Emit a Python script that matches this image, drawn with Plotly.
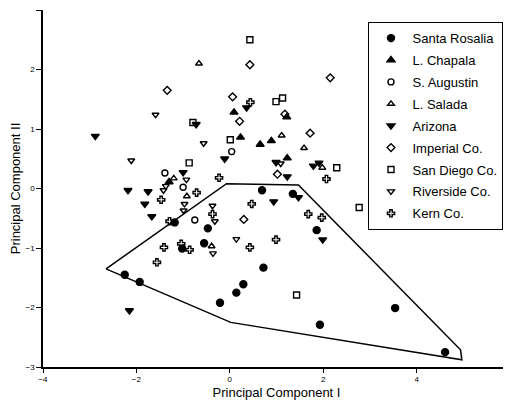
import plotly.graph_objects as go

# ---- data (Principal Component I, II) ----
santa_rosalia_x = [-2.25, -1.93, -0.21, 0.14, 0.29, 0.72, 1.93, 3.54, 4.61, 0.69, 1.35, 1.86, -0.47, -0.55, -1.02, -1.18]
santa_rosalia_y = [-1.45, -1.57, -1.92, -1.75, -1.61, -1.33, -2.29, -2.01, -2.75, -0.03, -0.09, -0.70, -0.67, -0.92, -1.01, -0.57]

chapala_x = [0.09, 0.23, 0.65, 0.89, 1.22, 1.23, -1.30]
chapala_y = [1.28, 0.86, 0.74, 0.80, 1.20, 0.51, 0.11]

augustin_x = [0.04, -1.39, -1.00, -0.75]
augustin_y = [0.62, 0.26, 0.02, -0.53]

salada_x = [-0.66, 1.11, 1.59, 1.98, -1.20, -0.92, -0.39]
salada_y = [2.10, 0.89, 0.68, 0.35, 0.17, -0.13, -0.97]

arizona_x = [-2.88, -0.72, 0.36, -0.11, 0.99, 1.79, 1.91, 1.23, 1.47, 0.94, 1.99, -2.15, -1.00, -2.18, -1.75, -1.82, -1.67]
arizona_y = [0.88, 1.08, 1.36, 0.50, 0.44, 0.38, 0.43, 0.20, -0.15, -0.22, -0.86, -2.05, 0.27, -0.03, -0.05, -0.26, -0.47]

imperial_x = [-1.34, 0.43, 2.15, 0.06, 0.21, 1.72, 1.18, 1.02, 0.30]
imperial_y = [1.65, 2.08, 1.86, 1.54, 1.13, 0.93, 1.25, 0.24, -0.52]

san_diego_x = [0.43, 0.99, 1.13, -0.79, -0.87, 0.01, 2.29, 2.77, 1.43]
san_diego_y = [2.50, 1.46, 1.52, 1.11, 0.43, 0.82, 0.35, -0.32, -1.79]

riverside_x = [-1.59, -0.56, -2.11, 1.09, -0.93, -1.37, -1.42, -0.37, -0.32, -0.36, 0.14, -0.97, -0.99]
riverside_y = [1.24, 0.76, 0.47, 0.42, 0.15, 0.04, -0.03, -0.29, -0.55, -1.09, -0.85, -0.26, -0.37]

kern_x = [0.44, -0.23, 2.07, 1.68, 1.97, 0.47, -0.37, 0.99, 0.43, -1.47, -0.71, -1.29, -1.41, -1.04, -0.86, -1.56]
kern_y = [1.45, 0.18, 0.16, -0.43, -0.49, -0.26, -0.43, -0.86, -0.99, -0.19, -0.07, -0.55, -0.99, -0.93, -1.03, -1.24]

# hull around Santa Rosalia
hull_x = [-2.65, -0.07, 1.47, 4.94, 4.97, 0.02, -2.65]
hull_y = [-1.35, 0.08, 0.06, -2.71, -2.88, -2.25, -1.35]

series = [
    ("Santa Rosalia", santa_rosalia_x, santa_rosalia_y, "circle", 7),
    ("L. Chapala", chapala_x, chapala_y, "triangle-up", 7),
    ("S. Augustin", augustin_x, augustin_y, "circle-open", 6),
    ("L. Salada", salada_x, salada_y, "triangle-up-open", 6),
    ("Arizona", arizona_x, arizona_y, "triangle-down", 7),
    ("Imperial Co.", imperial_x, imperial_y, "diamond-open", 6),
    ("San Diego Co.", san_diego_x, san_diego_y, "square-open", 6),
    ("Riverside Co.", riverside_x, riverside_y, "triangle-down-open", 6),
    ("Kern Co.", kern_x, kern_y, "cross-open", 6),
]

FONT = "Liberation Sans, Arial, Helvetica, sans-serif"

fig = go.Figure()
fig.add_trace(go.Scatter(x=hull_x, y=hull_y, mode="lines",
                         line=dict(color="black", width=1.5),
                         showlegend=False, hoverinfo="skip"))
for name, xs, ys, sym, sz in series:
    fig.add_trace(go.Scatter(
        x=xs, y=ys, mode="markers", name=name, legendgroup=name,
        marker=dict(symbol=sym, size=sz, color="black",
                    line=dict(color="black", width=1.4)),
    ))

# page body adds an 8px offset, so the figure is sized to fit the window
fig.update_layout(
    width=503, height=406,
    margin=dict(l=35, r=1, t=2, b=47),
    paper_bgcolor="white", plot_bgcolor="white",
    font=dict(family=FONT, color="black"),
    showlegend=True,
    legend=dict(x=0.697, y=0.966, xanchor="left", yanchor="top",
                bordercolor="black", borderwidth=1, bgcolor="white",
                font=dict(size=13, family=FONT, color="black"),
                traceorder="grouped", tracegroupgap=2, itemwidth=33),
    xaxis=dict(range=[-4, 6], tickmode="array", tickvals=[-4, -2, 0, 2, 4, 6],
               showgrid=False, zeroline=False, showline=True, linecolor="black",
               linewidth=1.5, ticks="outside", ticklen=4, tickcolor="black",
               tickfont=dict(size=8, family=FONT), automargin=False,
               title=dict(text="Principal Component I", font=dict(size=13), standoff=5)),
    yaxis=dict(range=[-3, 3], tickmode="array", tickvals=[-3, -2, -1, 0, 1, 2, 3],
               showgrid=False, zeroline=False, showline=True, linecolor="black",
               linewidth=1.5, ticks="outside", ticklen=5, tickcolor="black",
               tickfont=dict(size=8, family=FONT), automargin=False,
               title=dict(text="Principal Component II", font=dict(size=13), standoff=3)),
)

fig.write_html("out.html")
